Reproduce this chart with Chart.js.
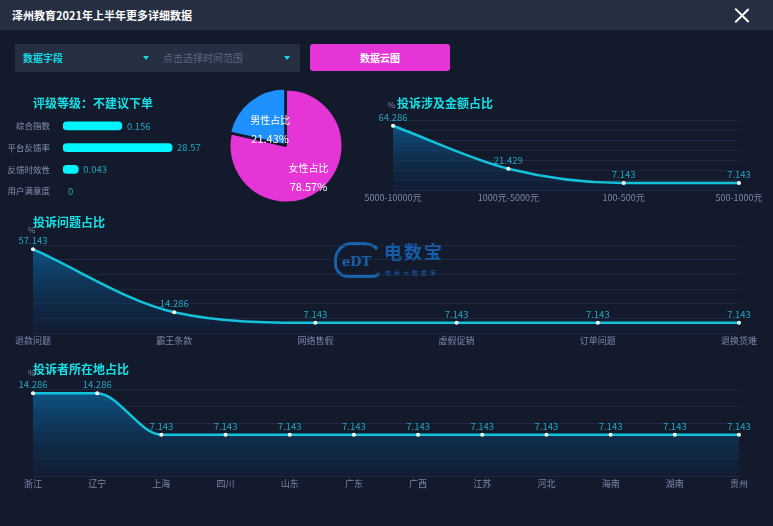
<!DOCTYPE html>
<html>
<head>
<meta charset="utf-8">
<script src="https://cdn.jsdelivr.net/npm/chart.js@4/dist/chart.umd.min.js"></script>
<style>
  html, body { margin: 0; padding: 0; }
  body { width: 773px; height: 526px; background: #131a2b; position: relative; overflow: hidden;
         font-family: "Noto Sans CJK SC", "Noto Sans", sans-serif; }
  .abs { position: absolute; }
  .hdr { left: 0; top: 0; width: 773px; height: 30px; background: #262e42; }
  .hdr-title { left: 12px; top: 7px; color: #fff; font-size: 11px; font-weight: bold; }
  .close { left: 734px; top: 8px; width: 15px; height: 15px; }
  .close:before, .close:after { content: ''; position: absolute; left: 7px; top: -2px; width: 1.6px; height: 19px; background: #fff; }
  .close:before { transform: rotate(45deg); }
  .close:after { transform: rotate(-45deg); }
  .sel { left: 15px; top: 44px; width: 285px; height: 28px; background: #262e42; }
  .sel-a { left: 23px; top: 50px; color: #16d9e3; font-size: 10px; font-weight: bold; }
  .sel-b { left: 163px; top: 50px; color: #5d6680; font-size: 10px; }
  .tri { width: 0; height: 0; border-left: 3px solid transparent; border-right: 3px solid transparent; border-top: 4px solid #16d9e3; }
  .btn { left: 310px; top: 44px; width: 140px; height: 27px; background: #e535d6; border-radius: 3px;
         color: #fff; font-size: 10px; font-weight: bold; text-align: center; line-height: 27px; }
  .ttl { color: #14e0e6; font-size: 12px; font-weight: bold; z-index: 5; }
  .pct { color: #7c86ab; font-size: 8px; z-index: 5; }
  canvas { position: absolute; }
  .wm { left: 330px; top: 236px; width: 120px; height: 50px; opacity: 0.85; }
  .wm-cloud { left: 4px; top: 6px; width: 44px; height: 30px; border: 3px solid #1a6fc0; border-radius: 18px 20px 12px 14px; border-right-color: transparent; }
  .wm-edt { left: 12px; top: 18px; color: #1a6fc0; font-size: 13px; font-weight: bold; font-family: "DejaVu Serif", serif; }
  .wm-name { left: 54px; top: 2px; color: #1769c2; font-size: 18px; font-weight: bold; letter-spacing: 2px; }
  .wm-sub { left: 55px; top: 32px; color: #1769c2; font-size: 6px; letter-spacing: 3px; }
</style>
</head>
<body>
<div class="abs hdr"></div>
<div class="abs hdr-title">泽州教育2021年上半年更多详细数据</div>
<div class="abs close"></div>

<div class="abs sel"></div>
<div class="abs sel-a">数据字段</div>
<div class="abs tri" style="left:143px;top:56px"></div>
<div class="abs sel-b">点击选择时间范围</div>
<div class="abs tri" style="left:284px;top:56px"></div>
<div class="abs btn">数据云图</div>

<div class="abs wm">
  <div class="abs wm-cloud"></div>
  <div class="abs wm-edt">eDT</div>
  <div class="abs wm-name">电数宝</div>
  <div class="abs wm-sub">电商大数据库</div>
</div>

<div class="abs ttl" style="left:33px;top:94px">评级等级：不建议下单</div>
<div class="abs ttl" style="left:397px;top:94px">投诉涉及金额占比</div>
<div class="abs pct" style="left:388px;top:99px">%</div>
<div class="abs ttl" style="left:33px;top:213px">投诉问题占比</div>
<div class="abs pct" style="left:28px;top:224px">%</div>
<div class="abs ttl" style="left:33px;top:360px">投诉者所在地占比</div>
<div class="abs pct" style="left:28px;top:367px">%</div>

<canvas id="rateChart" style="left:0;top:105px" width="230" height="107"></canvas>
<canvas id="sexChart" style="left:221px;top:81px" width="130" height="130"></canvas>
<canvas id="amountChart" style="left:355px;top:85px" width="418" height="127"></canvas>
<canvas id="issueChart" style="left:0;top:210px" width="773" height="145"></canvas>
<canvas id="areaChart" style="left:0;top:355px" width="773" height="143"></canvas>

<script>
// rating block
const ratingLabels = ['综合指数', '平台反馈率', '反馈时效性', '用户满意度'];
const ratingValues = ['0.156', '28.57', '0.043', '0'];
const ratingBars = [54, 100, 14, 0]; // bar length as drawn (relative)

// gender pie
const sexLabels = ['女性占比', '男性占比'];
const sexValues = [78.57, 21.43];

// complaint amount
const amountLabels = ['5000-10000元', '1000元-5000元', '100-500元', '500-1000元'];
const amountValues = [64.286, 21.429, 7.143, 7.143];

// complaint issues
const issueLabels = ['退款问题', '霸王条款', '网络售假', '虚假促销', '订单问题', '退换货难'];
const issueValues = [57.143, 14.286, 7.143, 7.143, 7.143, 7.143];

// complainant region
const areaLabels = ['浙江', '辽宁', '上海', '四川', '山东', '广东', '广西', '江苏', '河北', '海南', '湖南', '贵州'];
const areaValues = [14.286, 14.286, 7.143, 7.143, 7.143, 7.143, 7.143, 7.143, 7.143, 7.143, 7.143, 7.143];

const FONT = '"Noto Sans CJK SC", "Noto Sans", sans-serif';
const CYAN = '#12c3dc';
const LABEL = '#7c86ab';
const VAL = '#22a6c2';

const pointLabels = {
    id: 'pointLabels',
    afterDatasetsDraw(chart) {
        const ctx = chart.ctx;
        const meta = chart.getDatasetMeta(0);
        const data = chart.data.datasets[0].data;
        ctx.save();
        ctx.font = '9.5px ' + FONT;
        ctx.fillStyle = VAL;
        ctx.textAlign = 'center';
        ctx.textBaseline = 'bottom';
        meta.data.forEach((p, i) => ctx.fillText(data[i].toFixed(3), p.x, p.y - 4));
        ctx.restore();
    }
};

function mkLine(id, labels, values, pad, yMax, yStep) {
    new Chart(document.getElementById(id), {
        type: 'line',
        data: {
            labels,
            datasets: [{
                data: values,
                borderColor: CYAN,
                borderWidth: 2.5,
                cubicInterpolationMode: 'monotone',
                pointRadius: 2,
                pointBackgroundColor: '#ffffff',
                pointBorderWidth: 0,
                fill: 'origin',
                backgroundColor: (c) => {
                    const a = c.chart.chartArea;
                    if (!a) return 'rgba(13,80,130,0.6)';
                    const g = c.chart.ctx.createLinearGradient(0, a.top, 0, a.bottom);
                    g.addColorStop(0, 'rgba(12,98,150,0.85)');
                    g.addColorStop(1, 'rgba(14,35,70,0.35)');
                    return g;
                },
            }],
        },
        options: {
            responsive: false,
            animation: false,
            layout: { padding: pad },
            plugins: { legend: { display: false }, tooltip: { enabled: false } },
            scales: {
                x: {
                    grid: { display: false, drawTicks: false },
                    border: { display: false },
                    ticks: { color: LABEL, font: { family: FONT, size: 9 }, padding: 2, maxRotation: 0, autoSkip: false },
                },
                y: {
                    min: 0, max: yMax,
                    afterFit: (s) => { s.width = 0; },
                    grid: { color: 'rgba(40,52,85,0.55)', drawTicks: false },
                    border: { display: false },
                    ticks: { display: false, stepSize: yStep },
                },
            },
        },
        plugins: [pointLabels],
    });
}

mkLine('amountChart', amountLabels, amountValues, { left: 38, right: 34, top: 35, bottom: 7 }, 70, 10);
mkLine('issueChart', issueLabels, issueValues, { left: 33, right: 34, top: 35, bottom: 7 }, 60, 10);
mkLine('areaChart', areaLabels, areaValues, { left: 33, right: 34, top: 34, bottom: 7 }, 15, 3);

// rating bars
new Chart(document.getElementById('rateChart'), {
    type: 'bar',
    data: {
        labels: ratingLabels,
        datasets: [{
            data: ratingBars.map((v) => v || null),
            backgroundColor: '#00f5ff',
            barThickness: 8,
            borderRadius: 4,
            borderSkipped: false,
        }],
    },
    options: {
        indexAxis: 'y',
        responsive: false,
        animation: false,
        layout: { padding: { left: 0, right: 47, top: 0, bottom: 0 } },
        plugins: { legend: { display: false }, tooltip: { enabled: false } },
        scales: {
            x: { display: false, min: 0, max: 110 },
            y: {
                afterFit: (s) => { s.width = 63; },
                grid: { display: false },
                border: { display: false },
                ticks: { color: '#8891b5', font: { family: FONT, size: 8.5 }, padding: 5 },
            },
        },
    },
    plugins: [{
        id: 'barValues',
        afterDatasetsDraw(chart) {
            const ctx = chart.ctx;
            const yScale = chart.scales.y;
            const xScale = chart.scales.x;
            ctx.save();
            ctx.font = '9.5px ' + FONT;
            ctx.fillStyle = VAL;
            ctx.textBaseline = 'middle';
            ratingValues.forEach((v, i) => {
                const x = xScale.getPixelForValue(ratingBars[i]);
                ctx.fillText(v, x + 5, yScale.getPixelForValue(i));
            });
            ctx.restore();
        }
    }],
});

// gender pie
new Chart(document.getElementById('sexChart'), {
    type: 'pie',
    data: {
        labels: sexLabels,
        datasets: [{
            data: sexValues,
            backgroundColor: ['#e535d6', '#1e90ff'],
            borderColor: '#131a2b',
            borderWidth: 2,
            offset: [0, 5],
        }],
    },
    options: {
        responsive: false,
        animation: false,
        layout: { padding: 5 },
        plugins: { legend: { display: false }, tooltip: { enabled: false } },
    },
    plugins: [{
        id: 'sliceLabels',
        afterDatasetsDraw(chart) {
            const ctx = chart.ctx;
            ctx.save();
            ctx.fillStyle = '#ffffff';
            ctx.textAlign = 'center';
            ctx.textBaseline = 'middle';
            chart.getDatasetMeta(0).data.forEach((arc, i) => {
                const mid = (arc.startAngle + arc.endAngle) / 2;
                const r = arc.outerRadius * (i === 0 ? 0.64 : 0.45);
                const x = arc.x + Math.cos(mid) * r;
                const y = arc.y + Math.sin(mid) * r + 3;
                ctx.font = '10px ' + FONT;
                ctx.fillText(sexLabels[i], x, y - 9);
                ctx.font = '11px ' + FONT;
                ctx.fillText(sexValues[i].toFixed(2) + '%', x, y + 10);
            });
            ctx.restore();
        }
    }],
});
</script>
</body>
</html>
